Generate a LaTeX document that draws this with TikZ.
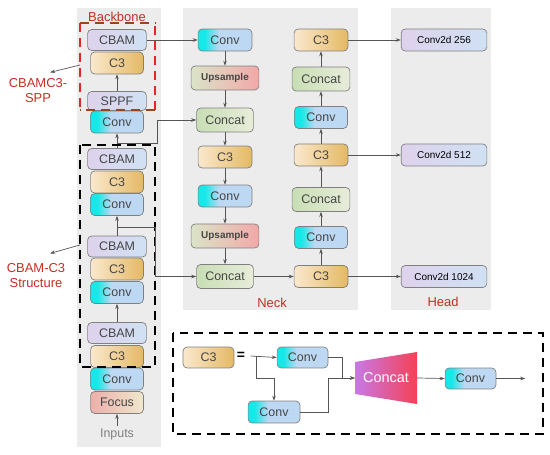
\documentclass[tikz,border=0pt]{standalone}
\usepackage{fontspec}
\setmainfont{Liberation Sans}
\usetikzlibrary{arrows.meta, positioning, calc}

\definecolor{panelgray}{RGB}{236,236,236}
\definecolor{edgegray}{RGB}{128,128,128}
\definecolor{linkgray}{RGB}{85,85,85}
\definecolor{tagred}{RGB}{192,48,36}
\definecolor{boxbrown}{RGB}{150,70,30}
\definecolor{boxred}{RGB}{225,40,40}
\definecolor{nodetext}{RGB}{70,70,70}
\definecolor{cbamL}{RGB}{222,210,236}
\definecolor{cbamR}{RGB}{208,225,243}
\definecolor{c3L}{RGB}{250,232,205}
\definecolor{c3R}{RGB}{228,185,100}
\definecolor{convL}{RGB}{20,232,232}
\definecolor{convR}{RGB}{188,216,242}
\definecolor{upL}{RGB}{218,228,200}
\definecolor{upR}{RGB}{242,168,168}
\definecolor{catL}{RGB}{200,222,180}
\definecolor{catR}{RGB}{232,236,218}
\definecolor{focusL}{RGB}{236,175,170}
\definecolor{focusR}{RGB}{240,232,205}
\definecolor{trapL}{RGB}{200,120,230}
\definecolor{trapR}{RGB}{245,65,85}

\pgfdeclarehorizontalshading{convfade}{100bp}{color(0bp)=(convL); color(25bp)=(convL);
  color(31bp)=(convL); color(44bp)=(convR); color(100bp)=(convR)}

\begin{document}
\begin{tikzpicture}[
    x=1bp, y=-1bp,
    every node/.style={font=\fontsize{12.5}{14}\selectfont, text=nodetext},
    blk/.style={draw=edgegray, rounded corners=4, line width=0.7, inner sep=0pt,
      minimum width=53, minimum height=22},
    cbam/.style={blk, left color=cbamL, right color=cbamR, minimum width=59, minimum height=21},
    sppf/.style={cbam, minimum height=19},
    c3/.style={blk, left color=c3L, right color=c3R},
    conv/.style={blk, shade, shading=convfade},
    upsmp/.style={blk, left color=upL, right color=upR, minimum width=68, minimum height=24,
      font=\fontsize{10}{12}\selectfont\bfseries},
    cat/.style={blk, left color=catL, right color=catR, minimum width=57, minimum height=24},
    focus/.style={blk, left color=focusL, right color=focusR},
    head/.style={cbam, minimum width=86, minimum height=22, text=black,
      font=\fontsize{10}{12}\selectfont},
    tag/.style={text=tagred, font=\fontsize{13}{15}\selectfont, align=center},
    link/.style={draw=linkgray, line width=0.7, -{Stealth[length=5pt, width=3.5pt]}},
    dashbox/.style={line width=2.2, dash pattern=on 9pt off 6pt}
  ]
  \useasboundingbox (0,0) rectangle (550,455);

  % panels
  \fill[panelgray] (77,8) rectangle (161,447);
  \fill[panelgray] (183,8) rectangle (358,310);
  \fill[panelgray] (391,8) rectangle (491,310);

  % backbone
  \node[cbam] (bbCbamA) at (117,40) {CBAM};
  \node[c3] (bbC3A) at (117,63) {C3};
  \node[sppf] (bbSppf) at (117,101) {SPPF};
  \node[conv] (bbConvA) at (117,122) {Conv};
  \node[cbam] (bbCbamB) at (117,159) {CBAM};
  \node[c3] (bbC3B) at (117,182) {C3};
  \node[conv] (bbConvB) at (117,204.5) {Conv};
  \node[cbam] (bbCbamC) at (117,246.5) {CBAM};
  \node[c3] (bbC3C) at (117,269) {C3};
  \node[conv] (bbConvC) at (117,292.5) {Conv};
  \node[cbam] (bbCbamD) at (117,333) {CBAM};
  \node[c3] (bbC3D) at (117,356.5) {C3};
  \node[conv] (bbConvD) at (117,379) {Conv};
  \node[focus] (bbFocus) at (117,402.5) {Focus};
  \node[text=gray] (bbIn) at (117,435) {Inputs};

  \foreach \a/\b in {bbSppf/bbC3A, bbCbamB/bbConvA, bbCbamC/bbConvB, bbCbamD/bbConvC, bbIn/bbFocus}
    \draw[link] (\a) -- (\b);

  % dashed groups
  \coordinate (redNW) at (80,23);
  \coordinate (redSE) at (155,110);
  \draw[dashbox, boxred] (redNW) -- (redNW |- redSE) (redSE) -- (redSE |- redNW);
  \draw[dashbox, boxbrown] (redNW) -- (redNW -| redSE) (redSE) -- (redSE -| redNW);
  \draw[dashbox] (80,145) rectangle (155,367);

  \node[tag] (bbTag) at (117,17) {Backbone};
  \node[tag] (lblSpp) at (38,91) {CBAMC3-\\SPP};
  \node[tag] (lblStr) at (36,276) {CBAM-C3\\Structure};
  \coordinate (sppFrom) at (80,65);
  \coordinate (strFrom) at (80,245);
  \draw[link] (sppFrom) -- ($(lblSpp.north)+(12,-3)$);
  \draw[link] (strFrom) -- ($(lblStr.north)+(14,-7)$);

  % neck
  \node[conv, minimum width=54] (nkConvA) at (225,40) {Conv};
  \node[upsmp] (nkUpA) at (225,78) {Upsample};
  \node[cat] (nkCatA) at (225,120) {Concat};
  \node[c3, minimum width=54] (nkC3A) at (225,157) {C3};
  \node[conv, minimum width=54] (nkConvB) at (225,196) {Conv};
  \node[upsmp] (nkUpB) at (225,236) {Upsample};
  \node[cat] (nkCatB) at (225,276.5) {Concat};

  \node[c3, minimum width=54] (nkC3B) at (321,276.5) {C3};
  \node[conv, minimum width=53] (nkConvC) at (321,237.5) {Conv};
  \node[cat, minimum width=58] (nkCatC) at (321,199.5) {Concat};
  \node[c3, minimum width=54] (nkC3C) at (321,155) {C3};
  \node[conv, minimum width=53] (nkConvD) at (321,117.5) {Conv};
  \node[cat, minimum width=58] (nkCatD) at (321,79) {Concat};
  \node[c3, minimum width=54] (nkC3D) at (321,40) {C3};

  \foreach \a/\b in {nkConvA/nkUpA, nkUpA/nkCatA, nkCatA/nkC3A, nkC3A/nkConvB, nkConvB/nkUpB,
      nkUpB/nkCatB, nkCatB/nkC3B, nkC3B/nkConvC, nkConvC/nkCatC, nkCatC/nkC3C, nkC3C/nkConvD,
      nkConvD/nkCatD, nkCatD/nkC3D}
    \draw[link] (\a) -- (\b);

  \node[tag] (nkTag) at (272,303) {Neck};

  % backbone -> neck
  \coordinate (tapA) at ($(bbCbamB.north)!0.35!(bbConvA.south)$);
  \coordinate (tapB) at ($(bbCbamC.north)!0.4!(bbConvB.south)$);
  \draw[link] (bbCbamA) -- (nkConvA);
  \draw[link] (tapA) -- ++(40,0) |- (nkCatA.west);
  \draw[link] (tapB) -- ++(38,0) |- (nkCatB.west);

  % head
  \node[head] (hdA) at (444,40) {Conv2d 256};
  \node[head] (hdB) at (444,155) {Conv2d 512};
  \node[head] (hdC) at (444,276.5) {Conv2d 1024};
  \node[tag] (hdTag) at (443,302) {Head};
  \foreach \a/\b in {nkC3D/hdA, nkC3C/hdB, nkC3B/hdC}
    \draw[link] (\a) -- (\b);

  % C3 structure
  \draw[dashbox] (173,333) rectangle (543,434);
  \node[c3, minimum width=51, minimum height=21] (sbC3) at (208.5,357.5) {C3};
  \node[text=black, font=\fontsize{14}{14}\selectfont\bfseries] (sbEq) at (241,356) {=};
  \node[conv, minimum width=51, minimum height=21] (sbConvA) at (302.5,357.5) {Conv};
  \node[conv, minimum width=52] (sbConvB) at (274,412) {Conv};
  \shade[left color=trapL, right color=trapR] (355,362) -- (417,352) -- (417,404) -- (355,394) -- cycle;
  \node[minimum width=62, minimum height=40, inner sep=0pt, text=white,
    font=\fontsize{14.5}{16}\selectfont] (sbCat) at (386,378) {Concat};
  \node[conv, minimum width=51, minimum height=21] (sbConvC) at (470.5,378.5) {Conv};
  \coordinate (sbSplit) at ($(sbEq.east)+(8,0)$);
  \coordinate (sbOut) at ($(sbConvC.east)+(29,0)$);

  \draw[link] ($(sbEq.east)+(2,0)$) -- (sbConvA.west);
  \draw[link] (sbSplit) -- ++(0,22) -| (sbConvB.north);
  \draw[link] (sbConvA.east) -- ++(14,0) |- (sbCat.west);
  \draw[link] (sbConvB.east) -- ++(28,0) |- (sbCat.west);
  \draw[link] (sbCat.east) -- (sbConvC.west);
  \draw[link] (sbConvC.east) -- (sbOut);
\end{tikzpicture}
\end{document}
